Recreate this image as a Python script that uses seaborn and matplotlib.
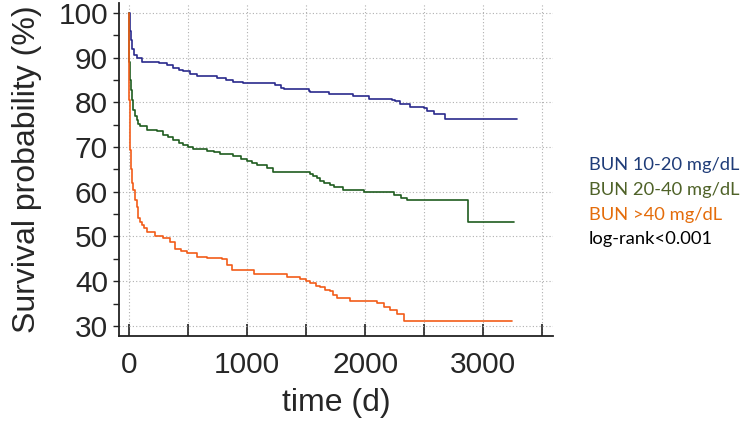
import numpy as np
import pandas as pd
import matplotlib
matplotlib.use("Agg")
import matplotlib.pyplot as plt
import seaborn as sns
from matplotlib.ticker import MultipleLocator, FixedLocator

# ---- data (step points: time in days, survival % from that time on) ----
blue_t = [0, 5, 14, 22, 40, 65, 107, 250, 320, 376, 420, 460, 520, 573, 743, 820, 884, 969,
          1240, 1290, 1308, 1525, 1534, 1690, 1900, 1986, 2029, 2226, 2254, 2297, 2381,
          2494, 2522, 2579, 2678, 3285]
blue_s = [100, 96, 94, 92, 90.5, 89.8, 89.1, 88.8, 88.4, 87.6, 87.2, 86.9, 86.4, 85.9, 85.4,
          85.0, 84.6, 84.4, 83.9, 83.3, 82.9, 82.6, 82.2, 81.8, 81.5, 81.3, 80.8, 80.5, 80.2,
          79.6, 79.0, 78.7, 78.1, 77.3, 76.3, 76.3]

green_t = [0, 3, 10, 17, 22, 37, 50, 65, 80, 93, 150, 234, 291, 330, 376, 420, 460, 500, 545,
           658, 720, 771, 884, 950, 997, 1040, 1082, 1167, 1223, 1534, 1560, 1590, 1620, 1647,
           1700, 1732, 1816, 1986, 2240, 2300, 2353, 2867, 3263]
green_s = [100, 89, 85, 82.8, 80.5, 78.3, 77, 76.1, 75.2, 74.6, 73.8, 73.5, 72.7, 72.2, 71.6,
           71.0, 70.5, 70.0, 69.6, 69.2, 68.8, 68.5, 67.9, 67.4, 66.9, 66.4, 66.0, 65.3, 64.5,
           64.0, 63.5, 63.0, 62.5, 62.0, 61.5, 61.1, 60.5, 60.0, 59.3, 58.7, 58.2, 53.2, 53.2]

orange_t = [0, 1, 2, 5, 8, 15, 25, 37, 51, 65, 79, 95, 107, 130, 150, 220, 291, 347, 390, 440,
            489, 573, 658, 785, 828, 870, 1054, 1336, 1449, 1500, 1534, 1580, 1619, 1660, 1703,
            1730, 1760, 1873, 2099, 2155, 2212, 2268, 2325, 3243]
orange_s = [100, 85, 80.5, 74, 69.4, 65, 62, 60.4, 58.2, 56.7, 54.1, 53.2, 52.6, 51.8, 51.1,
            50.0, 49.7, 48.8, 47.1, 46.8, 46.4, 45.5, 45.2, 44.9, 43.6, 42.4, 41.6, 41.0, 40.5,
            40.0, 39.5, 39.0, 38.6, 38.1, 37.7, 37.0, 36.2, 35.6, 35.1, 34.3, 33.6, 32.6, 31.2, 31.2]

groups = ["BUN 10-20 mg/dL", "BUN 20-40 mg/dL", "BUN >40 mg/dL"]
xtick_labels = [0, 1000, 2000, 3000]
ytick_labels = [30, 40, 50, 60, 70, 80, 90, 100]
note = "log-rank<0.001"

line_colors = ["#2A2A8C", "#1F5C1F", "#F25C19"]
text_colors = ["#1F3C78", "#4F6228", "#E46C0A"]

df = pd.concat([
    pd.DataFrame({"time": blue_t, "surv": blue_s, "group": groups[0]}),
    pd.DataFrame({"time": green_t, "surv": green_s, "group": groups[1]}),
    pd.DataFrame({"time": orange_t, "surv": orange_s, "group": groups[2]}),
], ignore_index=True)

sns.set_theme(style="white")
plt.rcParams["font.family"] = ["Liberation Sans", "DejaVu Sans"]

fig = plt.figure(figsize=(7.4, 4.25), dpi=100)
ax = fig.add_axes([119 / 740, 1 - 336 / 425, (553 - 119) / 740, (336 - 3) / 425])

sns.lineplot(data=df, x="time", y="surv", hue="group", hue_order=groups,
             palette=line_colors, estimator=None, drawstyle="steps-post",
             linewidth=1.2, legend=False, ax=ax, zorder=3)

ax.set_xlim(-85, 3590)
ax.set_ylim(27.75, 102.2)

ax.xaxis.set_major_locator(FixedLocator(xtick_labels))
ax.xaxis.set_minor_locator(MultipleLocator(500))
ax.yaxis.set_major_locator(FixedLocator(ytick_labels))
ax.yaxis.set_minor_locator(MultipleLocator(5))

ax.grid(True, which="both", axis="x", linestyle=(0, (1, 2)), color="#B0B0B0", linewidth=0.8)
ax.grid(True, which="major", axis="y", linestyle=(0, (1, 2)), color="#B0B0B0", linewidth=0.8)

ax.tick_params(axis="x", which="both", direction="in", length=9, width=1.2,
               color="#222222", labelsize=21.5, pad=11, bottom=True)
ax.tick_params(axis="y", which="both", direction="out", length=4, width=1.0,
               color="#222222", labelsize=21.5, pad=4, left=True)

for s in ["top", "right"]:
    ax.spines[s].set_visible(False)
for s in ["left", "bottom"]:
    ax.spines[s].set_color("#222222")
    ax.spines[s].set_linewidth(1.3)

ax.set_xlabel("time (d)", fontsize=23, labelpad=6)
ax.set_ylabel("Survival probability (%)", fontsize=23, labelpad=12)

ys = [165, 190, 215, 239]
for txt, col, yp in zip(groups + [note], text_colors + ["#000000"], ys):
    fig.text(589 / 740, 1 - yp / 425, txt, color=col, fontsize=13.2,
             family=["Lato", "DejaVu Sans"], ha="left", va="center")

fig.savefig("out.png", dpi=100)
